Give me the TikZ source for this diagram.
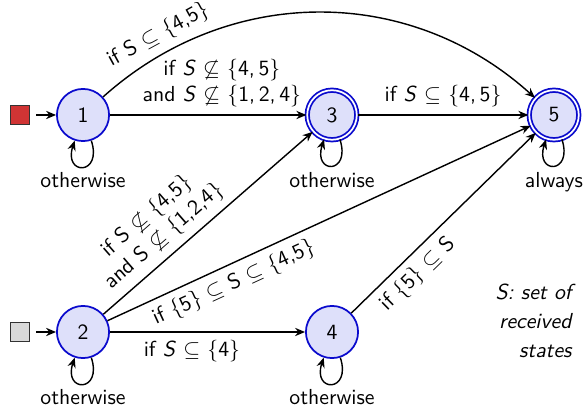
\documentclass[tikz,border=0pt]{standalone}
\usetikzlibrary{arrows.meta}
\definecolor{stblue}{RGB}{10,10,205}
\definecolor{stfill}{RGB}{222,224,250}
\definecolor{initred}{RGB}{208,52,52}
\definecolor{initgray}{RGB}{218,218,218}
\begin{document}
\begin{tikzpicture}[x=0.46pt,y=-0.46pt,font=\sffamily,
  st/.style={circle,draw=stblue,fill=stfill,line width=0.8pt,minimum size=24pt,inner sep=0pt},
  acc/.style={st,double=white,double distance=0.8pt,minimum size=22.8pt},
  tr/.style={-{Stealth[length=4.6pt,width=3.8pt]},line width=0.65pt},
  ini/.style={draw=black!80,line width=0.5pt,minimum size=8.7pt,inner sep=0pt},
  lbl/.style={inner sep=0pt,anchor=base},
  loopline/.style={tr},
]
\useasboundingbox (0,0) rectangle (584,406);
\node[st] (n1) at (83,115) {1};
\node[acc] (n3) at (332,115) {3};
\node[acc] (n5) at (554,115) {5};
\node[st] (n2) at (83,332) {2};
\node[st] (n4) at (332,332) {4};
\node[ini,fill=initred] (i1) at (20,115) {};
\node[ini,fill=initgray] (i2) at (20,332) {};
\draw[tr,shorten <=2.8pt] (i1) -- (n1);
\draw[tr,shorten <=2.8pt] (i2) -- (n2);
% transitions
\draw[tr] (n1) to[bend left=42] node[pos=0.16,sloped,above] {if S $\subseteq$ \{4,5\}} (n5);
\draw[tr] (n1) -- node[above,pos=0.57,align=center] {if \textit{S} $\not\subseteq$ \{4,\,5\}\\and \textit{S} $\not\subseteq$ \{1,\,2,\,4\}} (n3);
\draw[tr] (n3) -- node[above] {if \textit{S} $\subseteq$ \{4,\,5\}} (n5);
\draw[tr] (n2) -- node[above,sloped,pos=0.35,align=center] {if S $\not\subseteq$ \{4,5\}\\and S $\not\subseteq$ \{1,2,4\}} (n3);
\draw[tr] (n2) -- node[below,sloped,pos=0.28] {if \{5\} $\subseteq$ S $\subseteq$ \{4,5\}} (n5);
\draw[tr] (n2) -- node[below,pos=0.42] {if \textit{S} $\subseteq$ \{4\}} (n4);
\draw[tr] (n4) -- node[below,sloped,pos=0.29] {if \{5\} $\subseteq$ S} (n5);
% loops
\draw[loopline] (n1.-72) .. controls +(-72:17pt) and +(-108:17pt) .. (n1.-108);
\draw[loopline] (n3.-72) .. controls +(-72:17pt) and +(-108:17pt) .. (n3.-108);
\draw[loopline] (n5.-72) .. controls +(-72:17pt) and +(-108:17pt) .. (n5.-108);
\draw[loopline] (n2.-72) .. controls +(-72:17pt) and +(-108:17pt) .. (n2.-108);
\draw[loopline] (n4.-72) .. controls +(-72:17pt) and +(-108:17pt) .. (n4.-108);
\node[lbl] (o1) at (83,188) {otherwise};
\node[lbl] (o3) at (332,188) {otherwise};
\node[lbl] (o5) at (554,188) {always};
\node[lbl] (o2) at (83,405) {otherwise};
\node[lbl] (o4) at (332,405) {otherwise};
\node[anchor=north east,align=right,inner sep=0pt,font=\sffamily\itshape\fontsize{10}{13.3}\selectfont] (note) at (572,284) {S: set of\\received\\states};
\end{tikzpicture}
\end{document}
